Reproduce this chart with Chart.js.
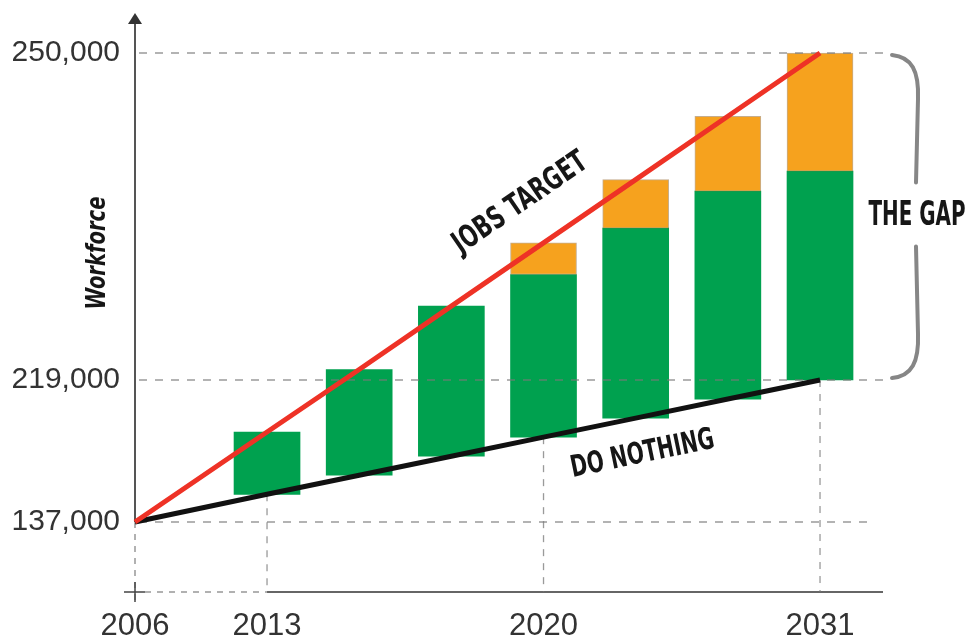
<!DOCTYPE html>
<html lang="en">
<head>
<meta charset="UTF-8" />
<title>Workforce – jobs target vs do nothing</title>
<script src="https://cdn.jsdelivr.net/npm/chart.js"></script>
<style>
  html, body { margin: 0; padding: 0; background: #fff; }
  #wrap { width: 969px; height: 637px; position: relative; }
</style>
</head>
<body>
<div id="wrap"><canvas id="chart"></canvas></div>

<script>
// step 0 is the 2006 baseline, steps 1..7 are the projection bars
const steps = [1, 2, 3, 4, 5, 6, 7];
const yearSteps = [0, 1, 4, 7];
const yearLabels = ['2006', '2013', '2020', '2031'];
const workforceTicks = [137000, 219000, 250000];

const baseline = 137000;
const doNothing = [153000, 164000, 175000, 186000, 197000, 208000, 219000];
const projected = [189000, 220000, 226000, 229000, 233400, 236900, 238800];
const jobsTarget = [189000, 220000, 226000, 232000, 238000, 244000, 250000];

const GREEN = '#00a14f';
const ORANGE = '#f6a21e';
const RED = '#ee3226';
const condensed = '"Liberation Sans Narrow", "DejaVu Sans Condensed", "Arial Narrow", sans-serif';

// the axes are not to scale: each [value, share] stop pins a value to a share of the axis length
const axisStops = {
  x: [[0, 0], [1, 0.1765], [7, 0.9158], [7.68, 1]],
  y: [[120000, 0], [137000, 0.1213], [219000, 0.3674], [250000, 0.9341], [255000, 1]]
};

function valueToShare(stops, v) {
  for (let i = 1; i < stops.length; i++) {
    const [v0, s0] = stops[i - 1], [v1, s1] = stops[i];
    if (v <= v1 || i === stops.length - 1) return s0 + (v - v0) / (v1 - v0) * (s1 - s0);
  }
}
function shareToValue(stops, s) {
  for (let i = 1; i < stops.length; i++) {
    const [v0, s0] = stops[i - 1], [v1, s1] = stops[i];
    if (s <= s1 || i === stops.length - 1) return v0 + (s - s0) / (s1 - s0) * (v1 - v0);
  }
}

class SegmentScale extends Chart.LinearScale {
  static id = 'segment';
  static defaults = Chart.LinearScale.defaults;
  buildTicks() {
    return (this.id === 'x' ? yearSteps : workforceTicks).map(value => ({ value }));
  }
  getPixelForValue(value) {
    if (value === null || value === undefined || isNaN(value)) return NaN;
    return this.getPixelForDecimal(valueToShare(axisStops[this.id], value));
  }
  getValueForPixel(pixel) {
    return shareToValue(axisStops[this.id], this.getDecimalForPixel(pixel));
  }
}
Chart.register(SegmentScale);

const targetPoints = [{ x: 0, y: baseline }].concat(steps.map((s, i) => ({ x: s, y: jobsTarget[i] })));
const nothingPoints = [{ x: 0, y: baseline }].concat(steps.map((s, i) => ({ x: s, y: doNothing[i] })));
const greenBars = steps.map((s, i) => ({ x: s, y: [doNothing[i], projected[i]] }));
const gapBars = steps.map((s, i) => ({ x: s, y: [projected[i], jobsTarget[i]] }))
  .filter((d, i) => jobsTarget[i] > projected[i]);

function dashed(ctx, x1, y1, x2, y2, color, dash, width) {
  ctx.save();
  ctx.strokeStyle = color;
  ctx.lineWidth = width || 1.3;
  ctx.setLineDash(dash || [7, 7]);
  ctx.beginPath();
  ctx.moveTo(x1, y1);
  ctx.lineTo(x2, y2);
  ctx.stroke();
  ctx.restore();
}

function squeezedText(ctx, text, x, y, angle, font, width, color) {
  ctx.save();
  ctx.translate(x, y);
  ctx.rotate(angle);
  ctx.font = font;
  const w = ctx.measureText(text).width;
  ctx.scale(width / w, 1);
  ctx.fillStyle = color || '#161616';
  ctx.textAlign = 'center';
  ctx.textBaseline = 'middle';
  ctx.fillText(text, 0, 0);
  ctx.restore();
}

// a point beside a line element, t along it and d off to one side
function besideLine(meta, t, d) {
  const a = meta.data[0], b = meta.data[meta.data.length - 1];
  const ang = Math.atan2(b.y - a.y, b.x - a.x);
  return {
    x: a.x + (b.x - a.x) * t - Math.sin(ang) * d,
    y: a.y + (b.y - a.y) * t + Math.cos(ang) * d,
    angle: ang
  };
}

let guidesDone = false;
const decorations = {
  id: 'decorations',
  beforeDraw() { guidesDone = false; },
  beforeDatasetsDraw(chart) {
    const { ctx, chartArea: area, scales: { x, y } } = chart;
    const x0 = x.getPixelForValue(0), yBase = y.getPixelForValue(baseline);
    const axisY = area.bottom;
    ctx.save();
    ctx.strokeStyle = '#555';
    ctx.fillStyle = '#333';
    ctx.lineWidth = 2;
    // y axis with arrow
    ctx.beginPath();
    ctx.moveTo(x0, yBase);
    ctx.lineTo(x0, area.top + 6);
    ctx.stroke();
    ctx.beginPath();
    ctx.moveTo(x0, area.top - 2);
    ctx.lineTo(x0 - 7, area.top + 9);
    ctx.lineTo(x0 + 7, area.top + 9);
    ctx.closePath();
    ctx.fill();
    // x axis: solid from 2013 onwards
    const x1 = x.getPixelForValue(1);
    ctx.strokeStyle = '#666';
    ctx.beginPath();
    ctx.moveTo(x1, axisY);
    ctx.lineTo(area.right, axisY);
    ctx.stroke();
    ctx.restore();
    dashed(ctx, x0 + 10, axisY, x1, axisY, '#888', [6, 6]);
    dashed(ctx, x0, yBase, x0, axisY + 10, '#888', [6, 6]);
    // cross at the origin
    ctx.save();
    ctx.strokeStyle = '#444';
    ctx.lineWidth = 1.5;
    ctx.beginPath();
    ctx.moveTo(x0 - 11, axisY);
    ctx.lineTo(x0 + 10, axisY);
    ctx.moveTo(x0, axisY - 10);
    ctx.lineTo(x0, axisY + 10);
    ctx.stroke();
    ctx.restore();
  },
  beforeDatasetDraw(chart, args) {
    // dashed guides sit over the bars but under the two lines
    if (guidesDone || args.meta.type !== 'line') return;
    guidesDone = true;
    const { ctx, chartArea: area, scales: { x, y } } = chart;
    const x0 = x.getPixelForValue(0);
    workforceTicks.forEach(v => {
      const py = y.getPixelForValue(v);
      dashed(ctx, x0 + 4, py, v === baseline ? area.right - 16 : area.right, py, 'rgba(120,120,120,0.75)', [8, 8]);
    });
    yearSteps.slice(1).forEach(s => {
      const px = x.getPixelForValue(s);
      const top = y.getPixelForValue(doNothing[steps.indexOf(s)]);
      dashed(ctx, px, top, px, area.bottom, 'rgba(120,120,120,0.75)', [7, 7]);
    });
  },
  afterDraw(chart) {
    const { ctx, chartArea: area, scales: { y } } = chart;
    const target = besideLine(chart.getDatasetMeta(0), 0.6, -45);
    squeezedText(ctx, 'JOBS TARGET', target.x, target.y, target.angle, 'bold 31px ' + condensed, 156);
    const nothing = besideLine(chart.getDatasetMeta(1), 0.73, 37);
    squeezedText(ctx, 'DO NOTHING', nothing.x, nothing.y, nothing.angle, 'bold 30px ' + condensed, 146);

    // brace spanning the gap
    const top = y.getPixelForValue(250000), bottom = y.getPixelForValue(219000);
    const mid = (top + bottom) / 2;
    const ex = area.right + 9, sx = area.right + 35;
    ctx.save();
    ctx.strokeStyle = '#868686';
    ctx.lineWidth = 4;
    ctx.lineCap = 'round';
    ctx.beginPath();
    ctx.moveTo(ex, top + 2);
    ctx.bezierCurveTo(ex + 20, top + 4, sx + 1, top + 18, sx, top + 46);
    ctx.lineTo(sx - 2, mid - 34);
    ctx.moveTo(sx - 2, mid + 30);
    ctx.lineTo(sx, bottom - 46);
    ctx.bezierCurveTo(sx + 1, bottom - 18, ex + 20, bottom - 4, ex, bottom - 2);
    ctx.stroke();
    ctx.restore();
    squeezedText(ctx, 'THE GAP', sx - 1, mid, 0, 'bold 33px ' + condensed, 97);

    squeezedText(ctx, 'Workforce', 98, 253, -Math.PI / 2, 'italic bold 27px ' + condensed, 113);
  }
};

new Chart(document.getElementById('chart'), {
  type: 'bar',
  data: {
    datasets: [
      { type: 'line', label: 'Jobs target', data: targetPoints, borderColor: RED, borderWidth: 5,
        pointRadius: 0, order: 0, clip: false },
      { type: 'line', label: 'Do nothing', data: nothingPoints, borderColor: '#111', borderWidth: 5,
        pointRadius: 0, order: 0, clip: false },
      { label: 'The gap', data: gapBars, backgroundColor: ORANGE, borderColor: 'rgba(150,105,50,0.55)',
        borderWidth: 1, borderSkipped: false, barThickness: 66, grouped: false, order: 1 },
      { label: 'Projected workforce', data: greenBars, backgroundColor: GREEN, borderWidth: 0,
        barThickness: 66, grouped: false, order: 1 }
    ]
  },
  options: {
    responsive: true,
    maintainAspectRatio: false,
    animation: false,
    layout: { padding: { top: 15, right: 86, left: 0, bottom: 0 } },
    plugins: { legend: { display: false }, tooltip: { enabled: false } },
    scales: {
      x: {
        type: 'segment',
        min: 0,
        max: 7.68,
        offset: false,
        grid: { display: false, drawTicks: false },
        border: { display: false },
        ticks: {
          autoSkip: false,
          maxRotation: 0,
          padding: 16,
          color: '#333',
          font: { family: '"Liberation Sans", Arial, sans-serif', size: 31 },
          callback: v => yearLabels[yearSteps.indexOf(v)]
        },
        afterFit: s => { s.height = 45; s.paddingLeft = 0; s.paddingRight = 0; }
      },
      y: {
        type: 'segment',
        min: 120000,
        max: 255000,
        grid: { display: false, drawTicks: false },
        border: { display: false },
        ticks: {
          autoSkip: false,
          padding: 15,
          color: '#333',
          font: { family: '"Liberation Sans", Arial, sans-serif', size: 30 },
          callback: v => v.toLocaleString('en-US')
        },
        afterFit: s => { s.width = 135; s.paddingTop = 0; s.paddingBottom = 0; }
      }
    }
  },
  plugins: [decorations]
});
</script>
</body>
</html>
